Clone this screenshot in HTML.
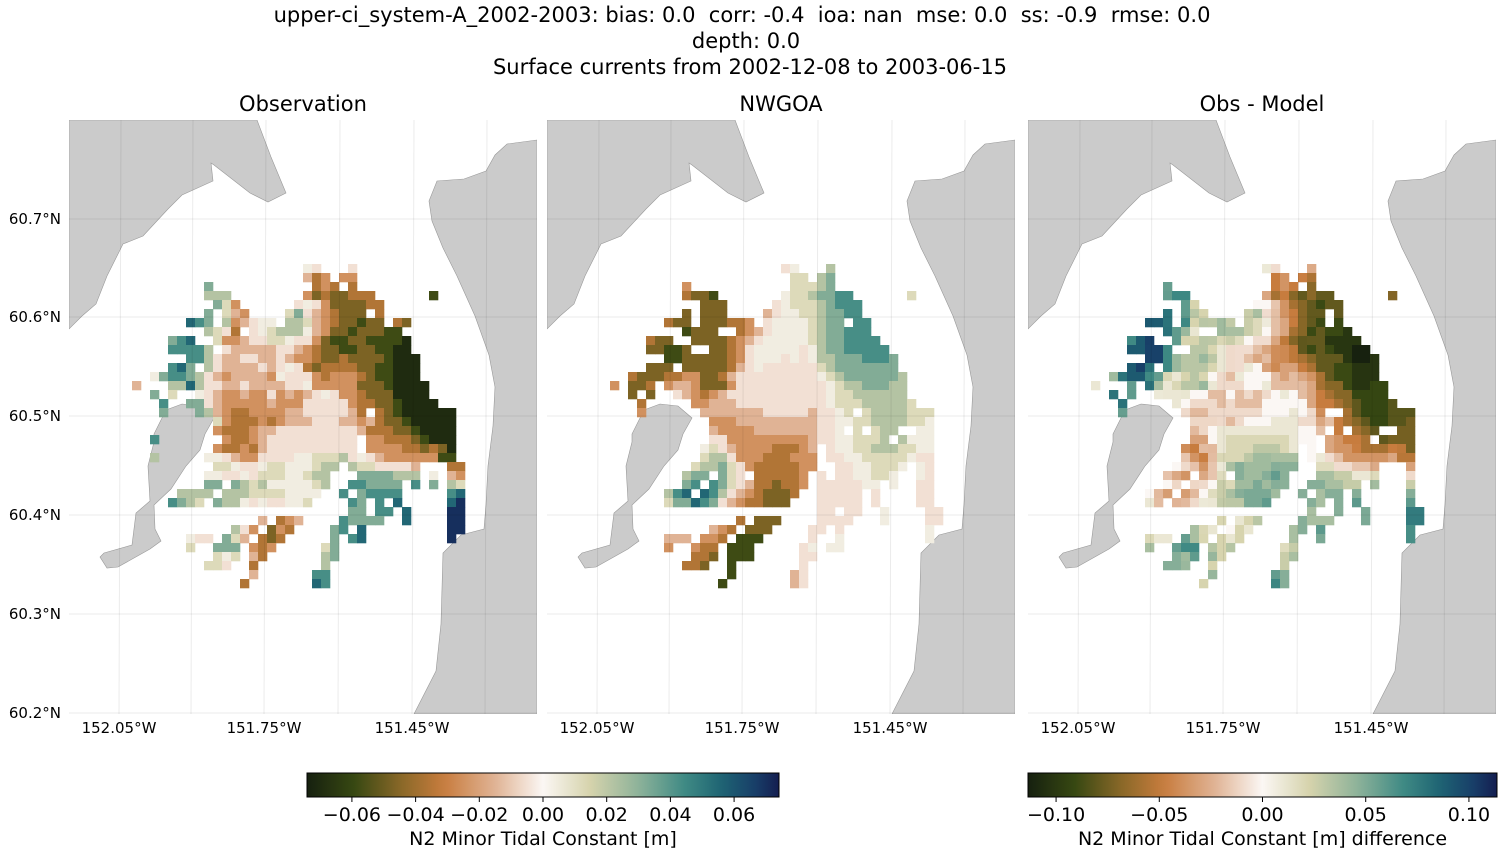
<!DOCTYPE html>
<html><head><meta charset="utf-8">
<style>
html,body{margin:0;padding:0;background:#fff;}
body{width:1500px;height:850px;overflow:hidden;font-family:"DejaVu Sans","Liberation Sans",sans-serif;}
svg text{font-family:"DejaVu Sans","Liberation Sans",sans-serif;fill:#000;white-space:pre;}
</style></head>
<body>
<svg id="fig" width="1500" height="850" xmlns="http://www.w3.org/2000/svg">
<g font-size="21" text-anchor="middle">
<text x="742" y="22" xml:space="preserve">upper-ci_system-A_2002-2003: bias: 0.0  corr: -0.4  ioa: nan  mse: 0.0  ss: -0.9  rmse: 0.0</text>
<text x="746" y="48">depth: 0.0</text>
<text x="750" y="74">Surface currents from 2002-12-08 to 2003-06-15</text>
</g>
</svg>
<script>
// ---- data ----
const levelChars = "ABCDEFGHIJKLMN";
const levelValues = [-0.07,-0.058,-0.047,-0.036,-0.025,-0.015,-0.005,0.004,0.012,0.022,0.032,0.043,0.055,0.07];
const obsRows = [
"19|HG...G","19|FDE.EE","8|K...........DED.D","8|JJJ........ECDCCDDD......B",
"9|KIE......GHGECCCCDD","8|K.IFE....IKGFEDCCC.D","6|MLK.JEFGHH.JJIFEDCCBCC.DC",
"8|JIGD.GHIJJJHFECCBCCCBB","4|KLM..IEEFGGIIHGGECBBCCBBBBA","4|LLLLJ.GFFFFFGGFEDCCBBCCBBAA",
"6|LLJGFFGGFFGFEEDCCDCCCCBAAA","4|LMK.JGFFFFGFGHGDCDDDDCCBBAAA","2|HKLLKJGFEFFFFEHGGGEDEEEDCBBAAA",
"0|F...JJMJGGFFGFFFFGGHEEEEECCCBAAAA","2|K.I..HGFEEFEEGEFEFGHGEEDCCCAAAA","3|L..KKGFEEEEEFEEEGGGGGEDDCCBAAAA",
"3|K...KJFEDDEEEEFFGGGGGFD.DCBAAAAAA","9|IEDDDEDEFFFGGGFFEFDCCBAAAAA","9|EDDDEFFGGGGGGGGGFDDDCCBAAAA",
"2|L.......EDDEFGGGGGGGGGG.EEDDDCBAAA","9|EDDEDFGGGGGGGGGG.EEEEDDCDCA","2|J.....HHGFEEGGGGHHIIIJGHGFEEEEEEBB",
"9|IIHGGHIIHHHIJJ.JIIGGGGF...DD","8|HHGGHGIIIHHIJJ...KKKKJJJ.H.FE","8|KK.KJIJHHHHHIJ..LLKKKK.L.K.JI",
"5|JJJJ.JJJIIIIHHHH..L.KLLLL.....LM","4|LKJI.KJJHGHGGHHI....LK.L.M.....MN","24|KK.LL.M....NN",
"14|F.DEF....LKKKK..M....NN","11|JGE.CED....KL.M.........NN","6|HGG.KIF.DCD.....K.LM.........N",
"6|I..KKK.EDE.....IK","9|IHI.FD......JK","8|IIG..D.......J","13|F......LL","12|D.......ML"];
const modelRows = [
"19|GH...J","20|II.JK","8|E...........IIIJK","8|DCCB.......HIIJKKLL......I",
"10|CCC.....GHIIIJKLLL","8|C.CCC....FGHHIIJKKLL","6|DCC.CCCDDE.GHHHHIJKK.LL",
"8|BCCC..DEFGHHHHIJKKLLL","4|DCC..CCCCDEFGHHHHHIJKKLLLL","4|CCBBC..CCDEGHHHHHGHJKKLLLLL",
"6|BBCCCCCDEGHHHGHGHJJKKKLLLK","4|CCC.CCCCCDFGHGGGGGGIJKKKKKKK","2|DCCCDDEECCDFGGGGGGGGGHIJKKKKKKJ",
"0|E.CCD.EFFECCCEGGGGGGGGGGHIJJKKKJJ","2|C.C..GFEDEFGGGGGGGGGGGHIIJJJJJJ","3|D.....EEFFFGGGGGGGGGGHIIIJJJJJI",
"3|E......FFFFFFFGGGGGFGGHI.IJJJJIII","11|EEEFFFFFFFFFGGHHIIJJJJIIH","11|FEEEEFFFFFFFGGH.I.IJJ..HH",
"11|GGEEEEEEEEEFGGHHIIIJ.JHHH","10|HIGFEEEEDDDEF.GHHIIJJJIIHH","10|IJJGEEEDDDEEE.GGHHIIIIIHGG",
"9|IJJKIGEDDDDDEE..GGHHIIIH.HG","8|JKK.KIG.DDDDDE.G.GGHHIIH..HG","8|KL.LKIGFDDCDDE.GGGGGHH.H..GG",
"6|JLM.MLJGFEDCCCD..GGGGG.G....GG","6|IKKMLKGFEDDCCC...GGGGG.G....GG","23|GG.GG..H....GG",
"14|D.CCC....GGGG...H....GG","11|FED.CCC....GG.G.........H","6|FFF.EED.BBB.....G..H.........H",
"6|E..EDD.BBB.....GH.HH","9|DDC.BBB.....GG","8|DDC..B.......G","13|B......FG","12|B.......FG"];
const latTicks = ["60.7°N","60.6°N","60.5°N","60.4°N","60.3°N","60.2°N"];
const lonTicks = ["152.05°W","151.75°W","151.45°W"];
const cbar1Ticks = [-0.06,-0.04,-0.02,0.00,0.02,0.04,0.06];
const cbar2Ticks = [-0.10,-0.05,0.00,0.05,0.10];

// ---- helpers ----
const NS="http://www.w3.org/2000/svg";
const fig=document.getElementById('fig');
function mk(tag,attrs,parent){const e=document.createElementNS(NS,tag);for(const k in attrs)e.setAttribute(k,attrs[k]);(parent||fig).appendChild(e);return e;}
const stops=[[0,[22,32,15]],[0.1,[55,72,18]],[0.2,[138,104,40]],[0.29,[200,124,62]],[0.4,[224,180,150]],[0.5,[251,247,244]],[0.6,[214,211,172]],[0.7,[143,179,154]],[0.8,[63,138,132]],[0.88,[30,99,115]],[0.95,[24,62,104]],[1,[20,29,80]]];
function cmap(t){t=Math.max(0,Math.min(1,t));for(let i=1;i<stops.length;i++){if(t<=stops[i][0]){const a=stops[i-1],b=stops[i];const f=(t-a[0])/(b[0]-a[0]);const c=a[1].map((v,j)=>Math.round(v+(b[1][j]-v)*f));return `rgb(${c[0]},${c[1]},${c[2]})`;}}return 'rgb(20,29,80)';}
function parseGrid(rows){return rows.map(r=>{const [o,s]=r.split('|');const off=+o;const arr=new Array(37).fill(null);for(let i=0;i<s.length;i++){const k=levelChars.indexOf(s[i]);if(k>=0)arr[off+i]=levelValues[k];}return arr;});}
const obs=parseGrid(obsRows), mod=parseGrid(modelRows);
const diff=obs.map((r,i)=>r.map((v,j)=>(v!==null&&mod[i][j]!==null)?v-mod[i][j]:null));

const cell=9, gx0=63, gy0=144;
const xCol=c=>gx0+c*cell, yRow=r=>gy0+r*cell;

const nwLand=[[69,120],[257,120],[271,157],[286,193],[268,202],[250,193],[214,165],[211,163],[213,181],[182,195],[168,209],[143,236],[123,244],[107,276],[96,304],[82,316],[69,329]];
const eLand=[[537,140],[507,144],[495,155],[486,171],[464,179],[437,181],[429,201],[432,221],[443,248],[457,276],[475,316],[489,355],[495,387],[493,426],[488,466],[486,505],[484,529],[461,535],[443,553],[441,624],[436,671],[414,714],[537,714]];
const island=[[154,434],[166,410],[182,404],[200,406],[214,418],[205,434],[200,450],[186,466],[171,489],[154,505],[155,529],[161,541],[150,549],[118,567],[107,568],[100,557],[104,553],[132,545],[136,513],[150,501],[148,466],[154,442]];
const gridX=[121,193,266,340,414,487], gridY=[219,317,416,515,614,713];

function panel(px,title,grid,vmax,name){
  const dx=px-69;
  const g=mk('g',{transform:`translate(${dx},0)`});
  
  
  const clip=mk('clipPath',{id:'clip'+name},g);
  mk('rect',{x:69,y:120,width:468,height:594},clip);
  const inner=mk('g',{'clip-path':`url(#clip${name})`},g);
  for(const [nm,poly] of [['nw-land',nwLand],['east-land',eLand],['island',island]]){
    const p=mk('polygon',{points:poly.map(q=>q.join(',')).join(' '),fill:'#cbcbcb',stroke:'#999',"stroke-width":0.6},inner);
    
    
  }
  const cells=mk('g',{},inner);
  
  
  grid.forEach((row,r)=>row.forEach((v,c)=>{
    if(v===null)return;
    const rc=mk('rect',{x:69+xCol(c),y:120+yRow(r),width:cell+0.3,height:cell+0.3,fill:cmap((v+vmax)/(2*vmax))},cells);
    
    
  }));
  gridX.forEach(x=>{const l=mk('line',{x1:x,y1:120,x2:x-2,y2:714,stroke:'#000','stroke-opacity':0.08,'stroke-width':1},inner);});
  gridY.forEach(y=>{const l=mk('line',{x1:69,y1:y,x2:537,y2:y,stroke:'#000','stroke-opacity':0.08,'stroke-width':1},inner);});
  const t=mk('text',{x:303,y:111,'font-size':21,'text-anchor':'middle'},g);t.textContent=title;
  
  
  lonTicks.forEach((s,i)=>{const tx=mk('text',{x:gridX[i*2]-2,y:733,'font-size':15,'text-anchor':'middle'},g);tx.textContent=s;});
  if(name==='obs'){latTicks.forEach((s,i)=>{const tx=mk('text',{x:61,y:gridY[i]+5,'font-size':15,'text-anchor':'end'},g);tx.textContent=s;});}
}
panel(69,'Observation',obs,0.0741,'obs');
panel(547,'NWGOA',mod,0.0741,'model');
panel(1028,'Obs - Model',diff,0.1136,'diff');

function colorbar(x0,x1,vmax,ticks,label,name,dec){
  const g=mk('g',{});
  
  
  const id='grad'+name;
  const lg=mk('linearGradient',{id:id,x1:0,x2:1,y1:0,y2:0},g);
  for(let i=0;i<=40;i++){mk('stop',{offset:i/40,'stop-color':cmap(i/40)},lg);}
  mk('rect',{x:x0,y:773,width:x1-x0,height:24,fill:`url(#${id})`,stroke:'#000','stroke-width':1},g);
  const sx=v=>x0+(v+vmax)/(2*vmax)*(x1-x0);
  ticks.forEach(v=>{
    const x=sx(v);
    mk('line',{x1:x,y1:797,x2:x,y2:802,stroke:'#000','stroke-width':1},g);
    const t=mk('text',{x:x,y:821,'font-size':19,'text-anchor':'middle'},g);
    t.textContent=(v<0?'\u2212':'')+Math.abs(v).toFixed(dec);
    
    
  });
  const t=mk('text',{x:(x0+x1)/2,y:845,'font-size':19,'text-anchor':'middle'},g);t.textContent=label;
  
  
}
colorbar(307,779,0.0741,cbar1Ticks,'N2 Minor Tidal Constant [m]','colorbar-values',2);
colorbar(1028,1497,0.1136,cbar2Ticks,'N2 Minor Tidal Constant [m] difference','colorbar-difference',2);
</script>
</body></html>
